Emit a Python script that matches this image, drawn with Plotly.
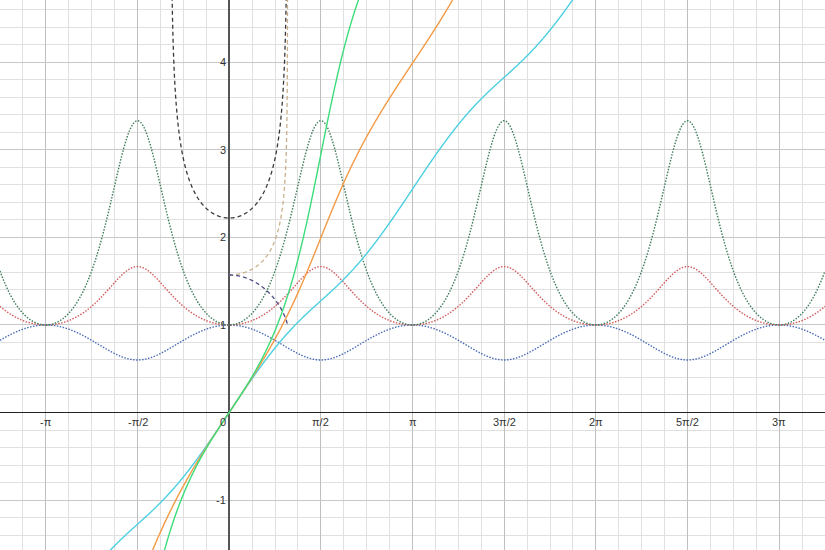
import numpy as np
import plotly.graph_objects as go

PI = np.pi
# parameters of the plotted elliptic integrals
modulus_k = 0.8          # k  (m = k^2 = 0.64)
char_n = 0.5             # characteristic n of the third kind

x_range = [-5 * PI / 4, 13 * PI / 4]
y_range = [-PI / 2, 3 * PI / 2]

x_tick_vals = [-PI, -PI / 2, PI / 2, PI, 3 * PI / 2, 2 * PI, 5 * PI / 2, 3 * PI]
x_tick_text = ["-π", "-π/2", "π/2", "π", "3π/2", "2π", "5π/2", "3π"]
y_tick_vals = [-1, 1, 2, 3, 4]
y_tick_text = ["-1", "1", "2", "3", "4"]

colors = {
    "E_inc": "#4ccfe0", "F_inc": "#f39a45", "Pi_inc": "#3ddc7a",
    "E_dx": "#4a6cb8", "F_dx": "#d45a5a", "Pi_dx": "#3f7d5c",
    "K_k": "#c9b08a", "E_k": "#4c4a86", "Pi_k": "#3a3a3a",
}

m = modulus_k ** 2

# incomplete integrals (functions of amplitude phi)
x = np.linspace(x_range[0], x_range[1], 3601)
dx = x[1] - x[0]
i0 = int(np.argmin(np.abs(x)))
s2 = np.sin(x) ** 2
f_E = np.sqrt(1 - m * s2)
f_F = 1 / np.sqrt(1 - m * s2)
f_Pi = 1 / ((1 - char_n * s2) * np.sqrt(1 - m * s2))


def cumint(f):
    c = np.concatenate([[0.0], np.cumsum((f[1:] + f[:-1]) / 2 * dx)])
    return c - c[i0]


E_inc = cumint(f_E)
F_inc = cumint(f_F)
Pi_inc = cumint(f_Pi)

# complete integrals as functions of k
nodes, weights = np.polynomial.legendre.leggauss(3000)
th = PI / 4 * (nodes + 1)
wt = PI / 4 * weights
st2 = np.sin(th) ** 2


def K_of(k):
    return np.array([np.sum(wt / np.sqrt(1 - kk ** 2 * st2)) for kk in k])


def E_of(k):
    return np.array([np.sum(wt * np.sqrt(1 - kk ** 2 * st2)) for kk in k])


def Pi_of(k):
    return np.array([np.sum(wt / ((1 - char_n * st2) * np.sqrt(1 - kk ** 2 * st2))) for kk in k])


k_pos = np.concatenate([np.linspace(0, 0.99, 300), np.linspace(0.9901, 0.99999, 200)])
k_E = np.linspace(0, 1, 300)
k_full = np.concatenate([-k_pos[::-1], k_pos[1:]])

K_k = K_of(k_pos)
E_k = E_of(k_E)
Pi_k = Pi_of(k_full)

fig = go.Figure()


def add(xs, ys, color, dash, width):
    fig.add_trace(go.Scatter(x=xs, y=ys, mode="lines",
                             line=dict(color=color, dash=dash, width=width, simplify=False),
                             hoverinfo="skip", showlegend=False))


dot = "1.5px,1.5px"
add(x, f_E, colors["E_dx"], dot, 1.4)
add(x, f_F, colors["F_dx"], dot, 1.4)
add(x, f_Pi, colors["Pi_dx"], dot, 1.4)
dash = "4px,3px"
add(k_full, Pi_k, colors["Pi_k"], dash, 1.3)
add(k_pos, K_k, colors["K_k"], dash, 1.3)
add(k_E, E_k, colors["E_k"], dash, 1.3)
add(x, E_inc, colors["E_inc"], "solid", 1.4)
add(x, F_inc, colors["F_inc"], "solid", 1.4)
add(x, Pi_inc, colors["Pi_inc"], "solid", 1.4)

font = dict(family="Liberation Sans, Arial, sans-serif", size=11, color="#333333")
for v, t in zip(x_tick_vals, x_tick_text):
    fig.add_annotation(x=v, y=0, text=t, showarrow=False, xanchor="center",
                       yanchor="top", yshift=-1, font=font)
fig.add_annotation(x=0, y=0, text="0", showarrow=False, xanchor="right",
                   yanchor="top", xshift=-1, yshift=-1, font=font)
for v, t in zip(y_tick_vals, y_tick_text):
    fig.add_annotation(x=0, y=v, text=t, showarrow=False, xanchor="right",
                       yanchor="middle", xshift=-1, font=font)

fig.update_xaxes(range=x_range, showticklabels=False, ticks="",
                 tick0=0, dtick=PI / 2, showgrid=True, gridcolor="#bfbfbf", gridwidth=1,
                 minor=dict(tick0=0, dtick=PI / 8, showgrid=True, gridcolor="#e0e0e0", gridwidth=1),
                 zeroline=True, zerolinecolor="#555555", zerolinewidth=2, showline=False)
fig.update_yaxes(range=y_range, showticklabels=False, ticks="",
                 tick0=0, dtick=1, showgrid=True, gridcolor="#c8c8c8", gridwidth=1,
                 minor=dict(tick0=0, dtick=0.2, showgrid=True, gridcolor="#e0e0e0", gridwidth=1),
                 zeroline=True, zerolinecolor="#222222", zerolinewidth=1.5, showline=False)
fig.update_layout(width=825, height=550, margin=dict(l=0, r=0, t=0, b=0),
                  plot_bgcolor="white", paper_bgcolor="white", showlegend=False)

fig.write_html("out.html", config={"displayModeBar": False, "staticPlot": True},
               post_script="document.body.style.margin='0';document.body.style.padding='0';document.body.style.overflow='hidden';")
